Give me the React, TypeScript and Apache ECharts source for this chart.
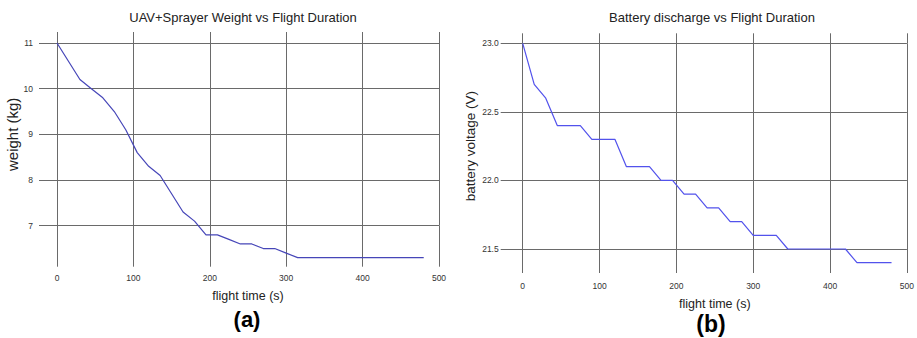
import React, { useEffect, useRef } from "react";
import * as echarts from "echarts";

const flightTime = [0, 15, 30, 45, 60, 75, 90, 105, 120, 135, 150, 165, 180, 195, 210, 225, 240, 255, 270, 285, 300, 315, 330, 345, 360, 375, 390, 405, 420, 435, 450, 465, 480];
const weightKg = [11.0, 10.6, 10.2, 10.0, 9.8, 9.5, 9.1, 8.6, 8.3, 8.1, 7.7, 7.3, 7.1, 6.8, 6.8, 6.7, 6.6, 6.6, 6.5, 6.5, 6.4, 6.3, 6.3, 6.3, 6.3, 6.3, 6.3, 6.3, 6.3, 6.3, 6.3, 6.3, 6.3];
const voltageV = [23.0, 22.7, 22.6, 22.4, 22.4, 22.4, 22.3, 22.3, 22.3, 22.1, 22.1, 22.1, 22.0, 22.0, 21.9, 21.9, 21.8, 21.8, 21.7, 21.7, 21.6, 21.6, 21.6, 21.5, 21.5, 21.5, 21.5, 21.5, 21.5, 21.4, 21.4, 21.4, 21.4];

const titles = ["UAV+Sprayer Weight vs Flight Duration", "Battery discharge vs Flight Duration"];
const panelLabels = ["(a)", "(b)"];
const xName = "flight time (s)";
const yNames = ["weight (kg)", "battery voltage (V)"];

const GRID_COLOR = "#6a6a6a";
const FONT = "Liberation Sans, Arial, sans-serif";

export default function App() {
  const ref = useRef<HTMLDivElement>(null);
  useEffect(() => {
    if (!ref.current) return;
    const chart = echarts.init(ref.current, null, { renderer: "svg" });
    const lineStyle = { color: GRID_COLOR, width: 1 };
    const tickLabel = { color: "#333", fontSize: 8.5, fontFamily: FONT };
    const mkX = (gridIndex: number, pos: "bottom" | "top", tickLen: number, labelMargin: number, nameGap: number) => ({
      type: "value",
      gridIndex,
      position: pos,
      min: 0,
      max: 500,
      interval: 100,
      axisLine: { show: false },
      axisTick: { show: true, inside: false, length: tickLen, lineStyle },
      splitLine: { show: pos === "bottom", lineStyle },
      axisLabel: { show: pos === "bottom", margin: labelMargin, ...tickLabel },
      name: pos === "bottom" ? xName : "",
      nameLocation: "middle",
      nameGap,
      nameTextStyle: { fontSize: 12.5, color: "#222", fontFamily: FONT },
    });
    const mkY = (gridIndex: number, pos: "left" | "right", min: number, max: number, interval: number, tickLen: number, labelMargin: number, decimals: number, name: string, nameGap: number, nameSize: number) => ({
      type: "value",
      gridIndex,
      position: pos,
      min,
      max,
      interval,
      axisLine: { show: false },
      axisTick: { show: true, inside: false, length: tickLen, lineStyle },
      splitLine: { show: pos === "left", lineStyle },
      axisLabel: {
        show: pos === "left",
        margin: labelMargin,
        formatter: (v: number) => v.toFixed(decimals),
        ...tickLabel,
      },
      name: pos === "left" ? name : "",
      nameLocation: "middle",
      nameGap,
      nameTextStyle: { fontSize: nameSize, color: "#222", fontFamily: FONT },
    });

    chart.setOption({
      animation: false,
      backgroundColor: "#ffffff",
      title: [
        { text: titles[0], left: 238, top: 6, textAlign: "center", textStyle: { fontSize: 13, fontWeight: "normal", color: "#222", fontFamily: FONT } },
        { text: titles[1], left: 707, top: 6, textAlign: "center", textStyle: { fontSize: 13, fontWeight: "normal", color: "#222", fontFamily: FONT } },
        { text: panelLabels[0], left: 242, top: 303, textAlign: "center", textStyle: { fontSize: 22, fontWeight: "bold", color: "#000", fontFamily: FONT } },
        { text: panelLabels[1], left: 706, top: 307, textAlign: "center", textStyle: { fontSize: 23, fontWeight: "bold", color: "#000", fontFamily: FONT } },
      ],
      grid: [
        { left: 57, right: 478, top: 43, bottom: 112.3 },
        { left: 522.7, right: 9.7, top: 43.3, bottom: 89 },
      ],
      xAxis: [
        mkX(0, "bottom", 41, 48, 64),
        mkX(0, "top", 11, 0, 0),
        mkX(1, "bottom", 24, 32, 48),
        mkX(1, "top", 10, 0, 0),
      ],
      yAxis: [
        mkY(0, "left", 7, 11, 1, 18, 24, 0, yNames[0], 37, 15),
        mkY(0, "right", 7, 11, 1, 2, 0, 0, "", 0, 12),
        mkY(1, "left", 21.5, 23, 0.5, 22, 24, 1, yNames[1], 45, 13.5),
        mkY(1, "right", 21.5, 23, 0.5, 2, 0, 1, "", 0, 12),
      ],
      series: [
        {
          type: "line",
          xAxisIndex: 0,
          yAxisIndex: 0,
          data: flightTime.map((t, i) => [t, weightKg[i]]),
          showSymbol: false,
          lineStyle: { color: "#4646b8", width: 1.2 },
          clip: false,
        },
        {
          type: "line",
          xAxisIndex: 2,
          yAxisIndex: 2,
          data: flightTime.map((t, i) => [t, voltageV[i]]),
          showSymbol: false,
          lineStyle: { color: "#5252ec", width: 1.2 },
          clip: false,
        },
      ],
    });
    return () => chart.dispose();
  }, []);
  return <div ref={ref} style={{ position: "fixed", left: 0, top: 0, width: 917, height: 338, background: "#fff" }} />;
}
